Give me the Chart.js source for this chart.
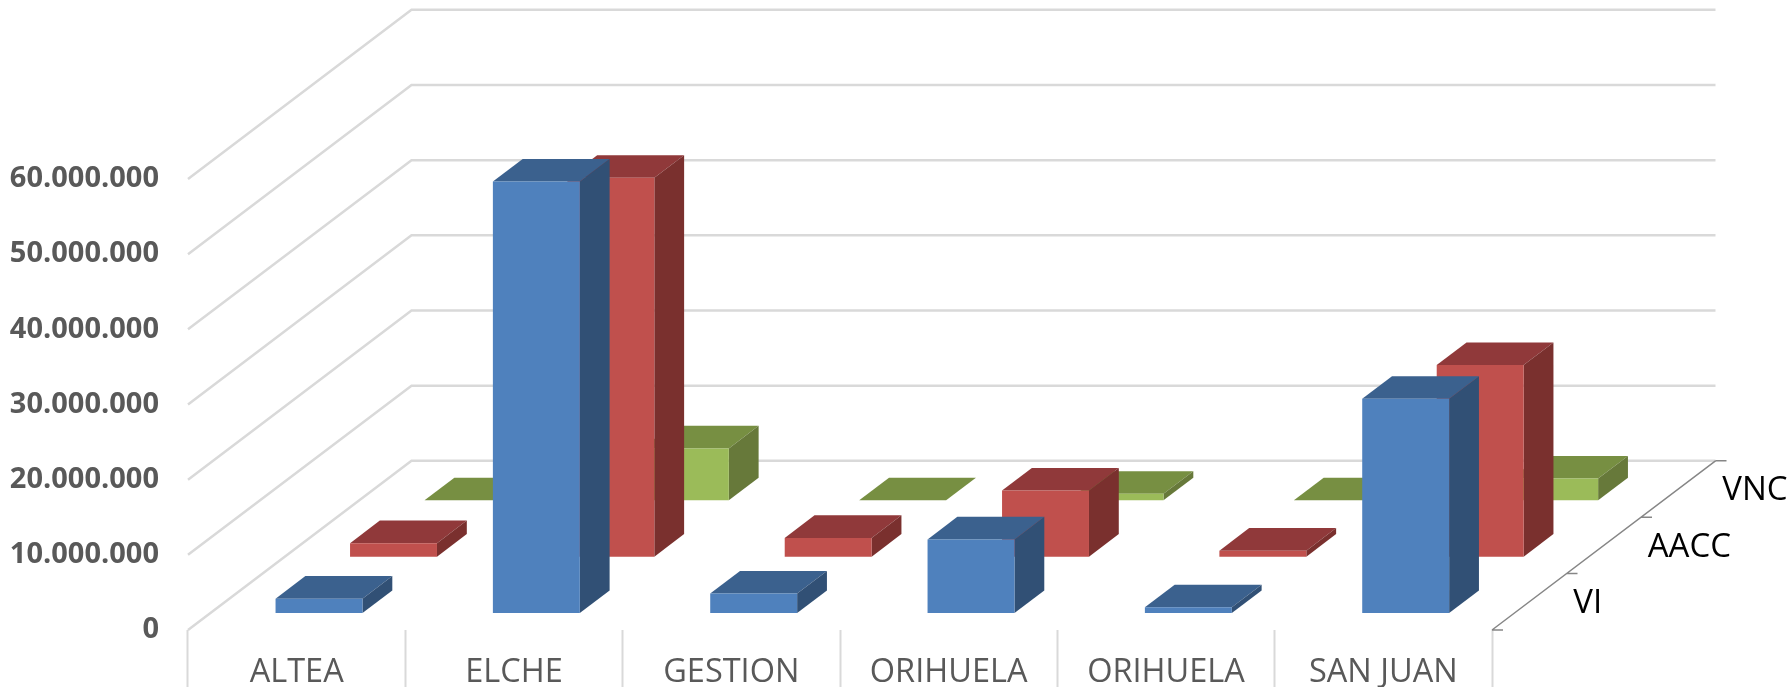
<!DOCTYPE html>
<html>
<head>
<meta charset="utf-8">
<title>3D columns</title>
<script src="https://cdn.jsdelivr.net/npm/chart.js@4"></script>
<style>
  html, body { margin: 0; padding: 0; background: #fff; }
  #wrap { width: 1791px; height: 687px; overflow: hidden; }
</style>
</head>
<body>
<div id="wrap"><canvas id="chart"></canvas></div>
<script>
// Values
const categories = ['ALTEA', 'ELCHE', 'GESTION', 'ORIHUELA', 'ORIHUELA', 'SAN JUAN'];
const seriesNames = ['VI', 'AACC', 'VNC'];
const vi = [1920000, 57400000, 2600000, 9800000, 760000, 28500000];
const aacc = [1800000, 50400000, 2500000, 8800000, 800000, 25500000];
const vnc = [0, 6900000, 0, 870000, 0, 2900000];
const valueTicks = [0, 10000000, 20000000, 30000000, 40000000, 50000000, 60000000];

// Face colours: front, top, side
const colors = [
  ['#4F81BD', '#3B618E', '#315075'],
  ['#C0504D', '#90393A', '#7A302E'],
  ['#9BBB59', '#778F42', '#67793A']
];

// Size of one depth row on the page
const ROW_DX = 74.5;
const ROW_DY = 56.4;
const BAR_DEPTH = 0.4;
const GRID = '#D9D9D9';
const FONT = '"Open Sans", sans-serif';

function face(ctx, color, pts) {
  ctx.fillStyle = color;
  ctx.beginPath();
  pts.forEach((p, i) => i ? ctx.lineTo(p[0], p[1]) : ctx.moveTo(p[0], p[1]));
  ctx.closePath();
  ctx.fill();
}

const walls = {
  id: 'walls',
  beforeDatasetsDraw(chart) {
    const ctx = chart.ctx;
    const area = chart.chartArea;
    const y = chart.scales.y;
    const dx = ROW_DX * seriesNames.length;
    const dy = ROW_DY * seriesNames.length;
    ctx.save();
    ctx.strokeStyle = GRID;
    ctx.lineWidth = 2.5;
    valueTicks.forEach(v => {
      const py = y.getPixelForValue(v);
      ctx.beginPath();
      ctx.moveTo(area.left, py);
      ctx.lineTo(area.left + dx, py - dy);
      ctx.lineTo(area.right + dx, py - dy);
      ctx.stroke();
    });
    // depth axis with its ticks
    ctx.strokeStyle = '#868686';
    ctx.lineWidth = 1.5;
    ctx.beginPath();
    ctx.moveTo(area.right, area.bottom);
    ctx.lineTo(area.right + dx, area.bottom - dy);
    for (let i = 0; i <= seriesNames.length; i++) {
      const tx = area.right + ROW_DX * i;
      const ty = area.bottom - ROW_DY * i;
      ctx.moveTo(tx, ty);
      ctx.lineTo(tx + 11, ty);
    }
    ctx.stroke();
    ctx.restore();
  },
  // Shift each series back to its row, then add the top and side of its bars.
  // The front faces are the normal Chart.js bars, drawn inside this translate.
  beforeDatasetDraw(chart, args) {
    const ctx = chart.ctx;
    const row = args.index + (1 - BAR_DEPTH) / 2;
    const w = ROW_DX * BAR_DEPTH;
    const h = ROW_DY * BAR_DEPTH;
    ctx.save();
    ctx.translate(ROW_DX * row, -ROW_DY * row);
    args.meta.data.forEach(bar => {
      const l = bar.x - bar.width / 2;
      const r = bar.x + bar.width / 2;
      face(ctx, colors[args.index][1], [[l, bar.y], [r, bar.y], [r + w, bar.y - h], [l + w, bar.y - h]]);
      face(ctx, colors[args.index][2], [[r, bar.y], [r + w, bar.y - h], [r + w, bar.base - h], [r, bar.base]]);
    });
  },
  afterDatasetDraw(chart) {
    chart.ctx.restore();
  },
  afterDraw(chart) {
    const ctx = chart.ctx;
    const area = chart.chartArea;
    ctx.save();
    ctx.fillStyle = '#000';
    ctx.font = '33px ' + FONT;
    ctx.textAlign = 'left';
    ctx.textBaseline = 'middle';
    seriesNames.forEach((name, i) => {
      ctx.fillText(name, area.right + ROW_DX * (i + 0.5) + 44, area.bottom - ROW_DY * (i + 0.5) + 2);
    });
    ctx.restore();
  }
};

new Chart(document.getElementById('chart'), {
  type: 'bar',
  data: {
    labels: categories,
    datasets: [vi, aacc, vnc].map((values, i) => ({
      label: seriesNames[i],
      data: values,
      backgroundColor: colors[i][0],
      grouped: false,
      barPercentage: 0.4,
      categoryPercentage: 1,
      clip: false
    }))
  },
  options: {
    responsive: true,
    maintainAspectRatio: false,
    animation: false,
    layout: { padding: { top: 179, right: 299, left: 0, bottom: 0 } },
    plugins: { legend: { display: false }, tooltip: { enabled: false } },
    scales: {
      x: {
        afterFit: s => { s.height = 57; },
        border: { display: false },
        grid: { drawOnChartArea: false, drawTicks: true, tickLength: 57, tickColor: GRID, tickWidth: 2 },
        ticks: {
          autoSkip: false,
          maxRotation: 0,
          color: '#595959',
          padding: -34,
          font: { family: FONT, size: 32.5 }
        }
      },
      y: {
        min: 0,
        max: 60000000,
        afterFit: s => { s.width = 188; },
        afterBuildTicks: s => { s.ticks = valueTicks.map(v => ({ value: v })); },
        border: { display: false },
        grid: { display: false },
        ticks: {
          color: '#595959',
          padding: 21,
          font: { family: FONT, size: 29, weight: 'bold' },
          callback: v => String(v).replace(/\B(?=(\d{3})+$)/g, '.')
        }
      }
    }
  },
  plugins: [walls]
});
</script>
</body>
</html>
